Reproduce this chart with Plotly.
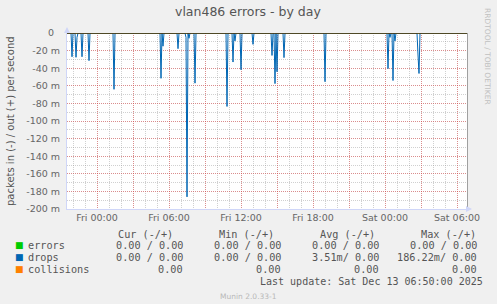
import plotly.graph_objects as go
import pandas as pd

# ---------------- data ----------------
start_time = "2025-12-11 21:30"
end_time = "2025-12-13 06:50"

# drops, "in" direction (plotted negative), milli-packets per second
spike_times = [
    "2025-12-11 21:55", "2025-12-11 22:15", "2025-12-11 22:20", "2025-12-11 22:45",
    "2025-12-11 23:20", "2025-12-12 01:25", "2025-12-12 05:20", "2025-12-12 05:30",
    "2025-12-12 06:45", "2025-12-12 07:25", "2025-12-12 07:30", "2025-12-12 07:40",
    "2025-12-12 08:10", "2025-12-12 10:50", "2025-12-12 11:20", "2025-12-12 11:30",
    "2025-12-12 12:00", "2025-12-12 13:00", "2025-12-12 14:35", "2025-12-12 14:50",
    "2025-12-12 15:00", "2025-12-12 15:35", "2025-12-12 19:00", "2025-12-13 00:15",
    "2025-12-13 00:25", "2025-12-13 00:40", "2025-12-13 00:50", "2025-12-13 02:45",
    "2025-12-13 02:50",
]
spike_values_m = [
    27, 27.6, 5, 27,
    31.4, 64, 51.5, 15,
    17.8, 5, 186.22, 6,
    57, 83.5, 33, 9,
    41.7, 12.9, 25.5, 57.5,
    44, 28, 55.3, 40.5,
    5, 54, 9, 25,
    46,
]

y_tick_vals = [0, -0.02, -0.04, -0.06, -0.08, -0.10, -0.12, -0.14, -0.16, -0.18, -0.20]
y_tick_text = ["0\u00a0\u00a0", "-20 m", "-40 m", "-60 m", "-80 m", "-100 m",
               "-120 m", "-140 m", "-160 m", "-180 m", "-200 m"]

x_tick_vals = ["2025-12-12 00:00", "2025-12-12 03:00", "2025-12-12 06:00",
               "2025-12-12 09:00", "2025-12-12 12:00", "2025-12-12 15:00",
               "2025-12-12 18:00", "2025-12-12 21:00", "2025-12-13 00:00",
               "2025-12-13 03:00", "2025-12-13 06:00"]
x_tick_text = ["Fri 00:00", "", "Fri 06:00", "", "Fri 12:00", "",
               "Fri 18:00", "", "Sat 00:00", "", "Sat 06:00"]

legend_names = ["errors", "drops", "collisions"]
legend_colors = ["#00cc00", "#0066b3", "#ff8000"]
cur_vals = ["0.00 / 0.00", "0.00 / 0.00", "0.00"]
min_vals = ["0.00 / 0.00", "0.00 / 0.00", "0.00"]
avg_vals = ["0.00 / 0.00", "3.51m/ 0.00", "0.00"]
max_vals = ["0.00 / 0.00", "186.22m/ 0.00", "0.00"]

# ---------------- series ----------------
times = pd.date_range(start_time, end_time, freq="5min")
drops_in = pd.Series(0.0, index=times)
for t, v in zip(spike_times, spike_values_m):
    drops_in[pd.Timestamp(t)] = -v / 1000.0
zeros = pd.Series(0.0, index=times)

# ---------------- geometry helpers ----------------
W, H = 497, 304
L, R, T, B = 67, 467, 33, 209
PW, PH = R - L, B - T


def px(x):
    return (x - L) / PW


def py(y):
    return (B - y) / PH


FONT = "#666666"
TXT = "#555555"

fig = go.Figure()
fig.add_trace(go.Scatter(x=times, y=zeros, mode="lines",
                         line=dict(color=legend_colors[0], width=1), hoverinfo="skip"))
fig.add_trace(go.Scatter(x=times, y=drops_in.values, mode="lines",
                         line=dict(color=legend_colors[1], width=1)))
fig.add_trace(go.Scatter(x=times, y=zeros, mode="lines",
                         line=dict(color=legend_colors[2], width=1), hoverinfo="skip"))
# invisible trace on right axis to create frame line
fig.add_trace(go.Scatter(x=[times[0]], y=[0], yaxis="y2", mode="markers",
                         marker=dict(opacity=0), hoverinfo="skip"))

major_grid = "rgba(230,60,60,0.45)"
minor_grid = "rgba(150,150,150,0.45)"

fig.update_layout(
    width=W, height=H,
    margin=dict(l=L, r=W - R, t=T, b=H - B, pad=0),
    paper_bgcolor="#f0f0f0",
    plot_bgcolor="#ffffff",
    showlegend=False,
    font=dict(family="DejaVu Sans", size=10, color=FONT),
    xaxis=dict(
        type="date",
        range=[start_time, end_time],
        tickmode="array", tickvals=x_tick_vals, ticktext=x_tick_text,
        showgrid=True, gridcolor=major_grid, griddash="1px,1px", gridwidth=1,
        minor=dict(dtick=3600000, tick0="2025-12-11 00:00", showgrid=True,
                   gridcolor=minor_grid, griddash="1px,1px", gridwidth=1),
        showline=True, linecolor="#CFD6F8", linewidth=1,
        zeroline=False, ticks="",
        tickfont=dict(size=9.5, color=FONT),
        fixedrange=True,
    ),
    yaxis=dict(
        range=[-0.2, 0],
        tickmode="array", tickvals=y_tick_vals, ticktext=y_tick_text,
        showgrid=True, gridcolor=major_grid, griddash="1px,1px", gridwidth=1,
        minor=dict(dtick=0.01, tick0=0, showgrid=True,
                   gridcolor=minor_grid, griddash="1px,1px", gridwidth=1),
        showline=True, linecolor="#CFD6F8", linewidth=1,
        zeroline=False, ticks="",
        tickfont=dict(size=9.5, color=FONT),
        ticklabelstandoff=4,
        fixedrange=True,
    ),
    yaxis2=dict(
        overlaying="y", side="right", range=[-0.2, 0],
        showline=True, linecolor="#a0a0a0", linewidth=1,
        showgrid=False, zeroline=False, showticklabels=False, ticks="",
    ),
)

# zero rule (black)
fig.add_shape(type="line", xref="paper", yref="y", x0=0, x1=1, y0=0, y1=0,
              line=dict(color="#000000", width=1), layer="above")

ann = []
# title
ann.append(dict(x=px(248), y=py(12), text="vlan486 errors - by day",
                font=dict(size=12.5, color=TXT), xanchor="center", yanchor="middle"))
# y title
ann.append(dict(x=px(10), y=0.5, text="packets in (-) / out (+) per second",
                textangle=-90, font=dict(size=10, color=TXT),
                xanchor="center", yanchor="middle"))
# rrdtool credit
ann.append(dict(x=px(488), y=py(56), text="RRDTOOL / TOBI OETIKER", textangle=90,
                font=dict(size=7.5, color="#c0c0c0"), xanchor="center", yanchor="middle"))
# axis arrows
ann.append(dict(x=0, y=py(27), ax=0, ay=6, text="",
                showarrow=True, arrowhead=2, arrowsize=1.2, arrowwidth=1,
                arrowcolor="#CFD6F8"))
ann.append(dict(x=px(472), y=0, ax=-6, ay=0, text="", showarrow=True, arrowhead=2,
                arrowsize=1.2, arrowwidth=1, arrowcolor="#CFD6F8"))

MONO = "DejaVu Sans Mono"
MS = 10.2
header_y = 234
row_y = [245.7, 257.3, 269.5]
headers = [("Cur (-/+)", 173.5), ("Min (-/+)", 275), ("Avg (-/+)", 375.5), ("Max (-/+)", 476.5)]
cols = [(cur_vals, 184), (min_vals, 282.3), (avg_vals, 379.5), (max_vals, 477.5)]
for text, xr in headers:
    ann.append(dict(x=px(xr), y=py(header_y), text=text, font=dict(family=MONO, size=MS, color=TXT),
                    xanchor="right", yanchor="middle"))
for i, name in enumerate(legend_names):
    ann.append(dict(x=px(13.5), y=py(row_y[i] - 0.5), text="\u25a0",
                    font=dict(family="DejaVu Sans", size=9, color=legend_colors[i]),
                    xanchor="left", yanchor="middle"))
    ann.append(dict(x=px(26.5), y=py(row_y[i]), text=name,
                    font=dict(family=MONO, size=MS, color=TXT),
                    xanchor="left", yanchor="middle"))
    for vals, xr in cols:
        ann.append(dict(x=px(xr), y=py(row_y[i]), text=vals[i].replace(" ", "\u00a0"),
                        font=dict(family=MONO, size=MS, color=TXT),
                        xanchor="right", yanchor="middle"))
ann.append(dict(x=px(483.5), y=py(281.7),
                text="Last update: Sat Dec 13 06:50:00 2025".replace(" ", "\u00a0"),
                font=dict(family=MONO, size=10, color=TXT), xanchor="right", yanchor="middle"))
ann.append(dict(x=px(248), y=py(296), text="Munin 2.0.33-1",
                font=dict(family="DejaVu Sans", size=7.5, color="#b8b8b8"),
                xanchor="center", yanchor="middle"))

for a in ann:
    a.setdefault("xref", "paper")
    a.setdefault("yref", "paper")
    a.setdefault("showarrow", False)
    a.setdefault("borderpad", 0)
fig.update_layout(annotations=ann)

fig.write_html("out.html", config={"displayModeBar": False})
